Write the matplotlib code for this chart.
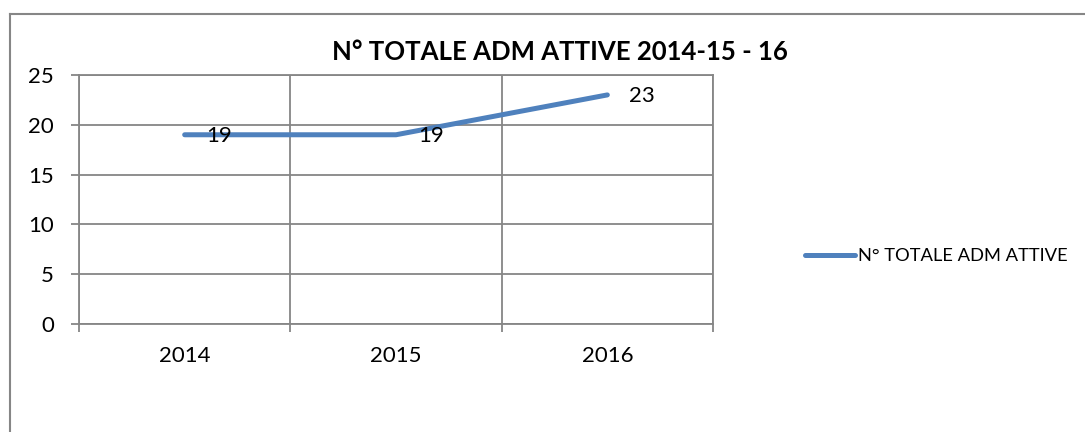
import matplotlib.pyplot as plt
from matplotlib.lines import Line2D

plt.rcParams['font.family'] = ['Lato', 'DejaVu Sans']

# data
years = ['2014', '2015', '2016']
adm_attive = [19, 19, 23]
series_name = 'N° TOTALE ADM ATTIVE'
title = 'N° TOTALE ADM ATTIVE 2014-15 - 16'

line_color = '#4F81BD'
grid_color = '#868686'

fig = plt.figure(figsize=(10.85, 4.32), dpi=100)
ax = fig.add_axes([79 / 1085, 1 - 324 / 432, (713 - 79) / 1085, (324 - 75) / 432])

x = list(range(len(years)))
ax.plot(x, adm_attive, color=line_color, lw=3.6, solid_capstyle='round',
        solid_joinstyle='round', label=series_name)

for xi, v in zip(x, adm_attive):
    ax.annotate(str(v), (xi, v), xytext=(25, -1), textcoords='offset points',
                ha='center', va='center', fontsize=16)

ax.set_xlim(-0.5, 2.5)
ax.set_ylim(0, 25)
ax.set_yticks(range(0, 26, 5))
ax.set_xticks(x)
ax.set_xticklabels(years)
ax.set_xticks([-0.5, 0.5, 1.5, 2.5], minor=True)

ax.grid(True, which='major', axis='y', color=grid_color, lw=1.3)
ax.grid(True, which='minor', axis='x', color=grid_color, lw=1.3)
ax.set_axisbelow(True)

for s in ax.spines.values():
    s.set_color(grid_color)
    s.set_linewidth(1.3)

ax.tick_params(axis='y', which='major', length=6, width=1.3, color=grid_color,
               pad=12, labelsize=16)
ax.tick_params(axis='x', which='major', length=0, pad=16, labelsize=16)
ax.tick_params(axis='x', which='minor', length=6, width=1.3, color=grid_color)

fig.text(560 / 1085, 1 - 52 / 432, title, ha='center', va='center',
         fontsize=18.5, fontweight='bold')

fig.legend(loc='center left', bbox_to_anchor=(798 / 1085, 1 - 256 / 432),
           frameon=False, fontsize=13.2, handlelength=2.7, handletextpad=0.2,
           borderaxespad=0)

# outer chart border (only top and left visible)
fig.add_artist(Line2D([10 / 1085, 1], [1 - 14 / 432, 1 - 14 / 432],
                      transform=fig.transFigure, color=grid_color, lw=1.5))
fig.add_artist(Line2D([10 / 1085, 10 / 1085], [0, 1 - 14 / 432],
                      transform=fig.transFigure, color=grid_color, lw=1.5))

fig.savefig('out.png', dpi=100)
